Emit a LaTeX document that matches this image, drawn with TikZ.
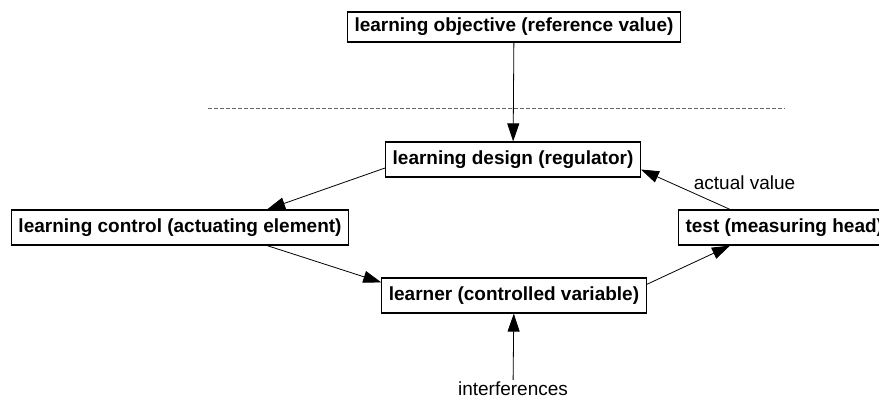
\documentclass[tikz,border=0pt]{standalone}
\usepackage{fontspec}
\setmainfont{Liberation Sans}
\usetikzlibrary{arrows.meta}
\tikzset{%
  tipA/.tip={Triangle[length=18pt,width=12pt]},
  stage/.style={draw, line width=1.2pt, inner xsep=7pt, inner ysep=0pt, minimum height=35pt, font=\fontsize{19}{22}\selectfont\bfseries},
  flow/.style={line width=0.8pt, -tipA}
}

\begin{document}
\begin{tikzpicture}[x=1pt,y=-1pt]
\useasboundingbox (0,0) rectangle (879,401);
\node[stage,minimum height=30pt] (objective) at (514,27) {learning objective (reference value)};
\node[stage] (design) at (513,159.5) {learning design (regulator)};
\node[stage] (control) at (180,227.5) {learning control (actuating element)};
\node[stage,anchor=west] (test) at (678,227.5) {test (measuring head)};
\node[stage] (learner) at (514,295.5) {learner (controlled variable)};
\node[font=\fontsize{19}{22}\selectfont, inner sep=2pt] (interf) at (513,389) {interferences};
% boundary of the control loop
\draw[gray!80!black, line width=0.8pt, dash pattern=on 4pt off 2pt] (208,108) -- (785,108);
\draw[flow] (objective) -- (design);
\draw[flow] ([yshift=-8.5pt]design.west) -- ([xshift=-82pt]control.north east);
\draw[flow] ([xshift=-82pt]control.south east) -- ([yshift=-5pt]learner.north west);
\draw[flow] ([yshift=-7pt]learner.north east) -- ([xshift=52pt]test.south west);
\draw[flow] ([xshift=52pt]test.north west) -- node[midway, anchor=west, xshift=6pt, yshift=7pt, inner sep=2pt, font=\fontsize{19}{22}\selectfont] {actual value} ([yshift=-10pt]design.east);
\draw[flow] (interf) -- (learner);
\end{tikzpicture}
\end{document}
